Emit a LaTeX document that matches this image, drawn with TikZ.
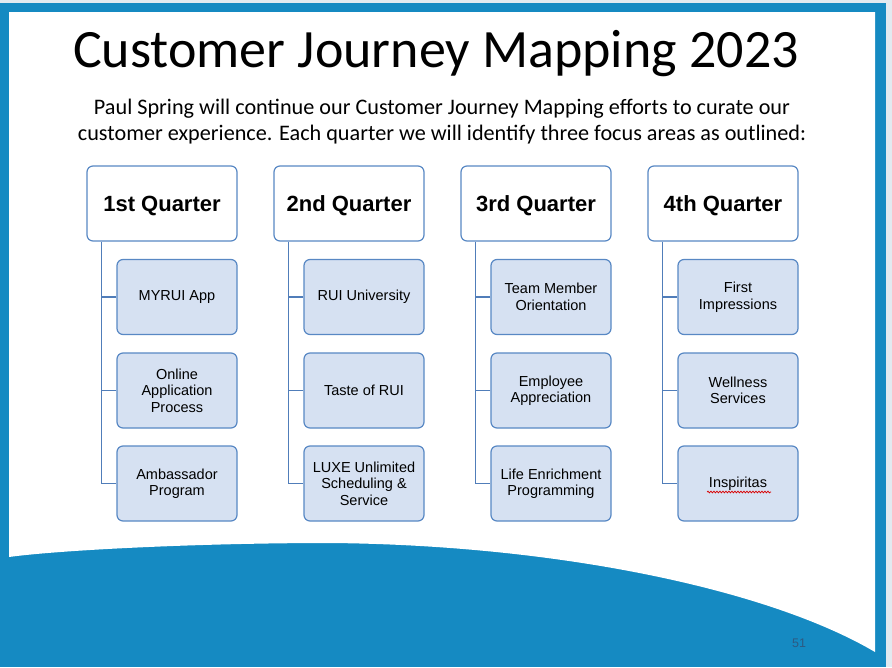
\documentclass[tikz,border=0pt]{standalone}
\usepackage{fontspec}
\setmainfont{Carlito}
\newfontfamily\arialf{Liberation Sans}
\usetikzlibrary{decorations.pathmorphing}
\definecolor{bgblue}{RGB}{21,138,194}
\definecolor{edgegray}{RGB}{226,234,240}
\definecolor{boxline}{RGB}{88,136,196}
\definecolor{childfill}{RGB}{214,225,242}
\definecolor{connline}{RGB}{80,125,185}
\definecolor{pagenum}{RGB}{45,90,130}
\tikzset{
  qhead/.style={draw=boxline, fill=white, rounded corners=6pt, line width=1.2pt,
    minimum width=150pt, minimum height=75pt, inner sep=0pt,
    text height=17pt, text depth=2pt,
    font=\arialf\bfseries\fontsize{22}{25}\selectfont},
  qitem/.style={draw=boxline, fill=childfill, rounded corners=6pt, line width=1.2pt,
    minimum width=120pt, minimum height=75pt, inner sep=0pt, align=center,
    font=\arialf\fontsize{14.5}{16.5}\selectfont},
  conn/.style={draw=connline, line width=1.3pt}
}
\begin{document}
\begin{tikzpicture}[x=1pt,y=-1pt]
\useasboundingbox (0,0) rectangle (892,667);
% background
\fill[bgblue] (0,0) rectangle (892,667);
\fill[edgegray] (0,0) rectangle (892,3);
\fill[edgegray] (886,0) rectangle (892,667);
% white slide area with wave bottom
\fill[white] (9,12) -- (875,12) -- (875,652)
  .. controls (770,590) and (560,545) .. (330,543)
  .. controls (200,543) and (60,550) .. (9,557) -- cycle;
% title and subtitle
\node[anchor=base, inner sep=0pt, font=\fontsize{54}{60}\selectfont] (title) at (436,67) {Customer Journey Mapping 2023};
\node[anchor=base, inner sep=0pt, font=\fontsize{22.2}{26}\selectfont] (sub1) at (442,114) {Paul Spring will continue our Customer Journey Mapping efforts to curate our};
\node[anchor=base, inner sep=0pt, font=\fontsize{22.2}{26}\selectfont] (sub2) at (442,140) {customer experience. Each quarter we will identify three focus areas as outlined:};
% headers
\node[qhead] (h1) at (162,203.5) {1st Quarter};
\node[qhead] (h2) at (349,203.5) {2nd Quarter};
\node[qhead] (h3) at (536,203.5) {3rd Quarter};
\node[qhead] (h4) at (723,203.5) {4th Quarter};
% items
\node[qitem] (a1) at (177,297) {MYRUI App};
\node[qitem] (a2) at (177,390.5) {Online\\Application\\Process};
\node[qitem] (a3) at (177,483.5) {Ambassador\\Program};
\node[qitem] (b1) at (364,297) {RUI University};
\node[qitem] (b2) at (364,390.5) {Taste of RUI};
\node[qitem] (b3) at (364,483.5) {LUXE Unlimited\\Scheduling \&\\Service};
\node[qitem] (c1) at (551,297) {Team Member\\Orientation};
\node[qitem] (c2) at (551,390.5) {Employee\\Appreciation};
\node[qitem] (c3) at (551,483.5) {Life Enrichment\\Programming};
\node[qitem] (d1) at (738,297) {First\\Impressions};
\node[qitem] (d2) at (738,390.5) {Wellness\\Services};
\node[qitem] (d3) at (738,483.5) {Inspiritas};
% connectors
\foreach \h/\k in {h1/a, h2/b, h3/c, h4/d}{
  \draw[conn] ([xshift=15pt]\h.south west) |- (\k3.west);
  \foreach \i in {1,2}{
    \draw[conn] (\k\i.west) -- ++(-15pt,0);
  }
}
% spell-check squiggle
\coordinate (sqL) at (707,492);
\coordinate (sqR) at (771,492);
\draw[red!85!black, line width=0.7pt, decorate, decoration={snake, amplitude=0.9pt, segment length=3pt}] (sqL) -- (sqR);
% page number
\node[font=\arialf\fontsize{12.5}{14}\selectfont, text=pagenum] (pg) at (799,643) {51};
\end{tikzpicture}
\end{document}
